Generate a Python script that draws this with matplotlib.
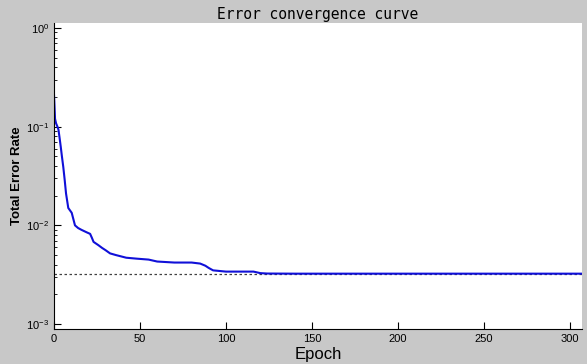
import matplotlib.pyplot as plt
import numpy as np

# valeurs
epochs = [0, 0.3, 0.6, 1.2, 2, 2.6, 3.2, 3.9, 4.6, 5.4, 6.2, 7, 8.3, 10.3, 12.2, 14, 16,
          19, 21, 22, 23, 25.8, 28, 30, 32.6, 36, 42, 48, 55, 60, 70, 80, 85, 88, 90,
          92.5, 100, 110, 116, 120, 124, 140, 160, 200, 250, 307]
err = [0.21, 0.16, 0.12, 0.108, 0.10, 0.093, 0.078, 0.063, 0.05, 0.039, 0.029, 0.021,
       0.015, 0.0134, 0.0100, 0.0094, 0.0090, 0.0085, 0.0082, 0.0075, 0.0068,
       0.0063, 0.0059, 0.0056, 0.0052, 0.0050, 0.0047, 0.0046, 0.0045, 0.0043, 0.0042,
       0.0042, 0.0041, 0.0039, 0.0037, 0.0035, 0.0034, 0.0034, 0.0034,
       0.00328, 0.00325, 0.00324, 0.00324, 0.00324, 0.00324, 0.00324]
seuil = 0.00318

xticks = [0, 50, 100, 150, 200, 250, 300]

fig = plt.figure(figsize=(5.87, 3.64), dpi=100, facecolor='#c8c8c8')
ax = fig.add_axes([54/587, 1 - 329/364, (582-54)/587, (329-23)/364])

ax.plot([0, 307], [seuil, seuil], linestyle=(0, (2, 2)), color='#404040', lw=0.9)
ax.plot(epochs, err, color='#1010d8', lw=1.5)

ax.set_yscale('log')
ax.set_xlim(0, 307)
ax.set_ylim(10**-3.05, 10**0.05)
ax.set_xticks(xticks)

for s in ['top', 'right']:
    ax.spines[s].set_visible(False)
ax.tick_params(which='both', direction='in', labelsize=8, top=False, right=False)
ax.tick_params(which='major', length=5)
ax.tick_params(which='minor', length=2.5)
for lab in ax.get_xticklabels() + ax.get_yticklabels():
    lab.set_family('Liberation Sans')

plt.rcParams['mathtext.default'] = 'regular'
ax.set_title('Error convergence curve', family='DejaVu Sans Mono', fontsize=10.5, pad=3)
ax.set_xlabel('Epoch', family='Liberation Sans', fontsize=12, labelpad=2)
ax.set_ylabel('Total Error Rate', family='Liberation Sans', fontsize=9.5,
              fontweight='bold', labelpad=2)

fig.savefig('out.png', dpi=100, facecolor=fig.get_facecolor())
